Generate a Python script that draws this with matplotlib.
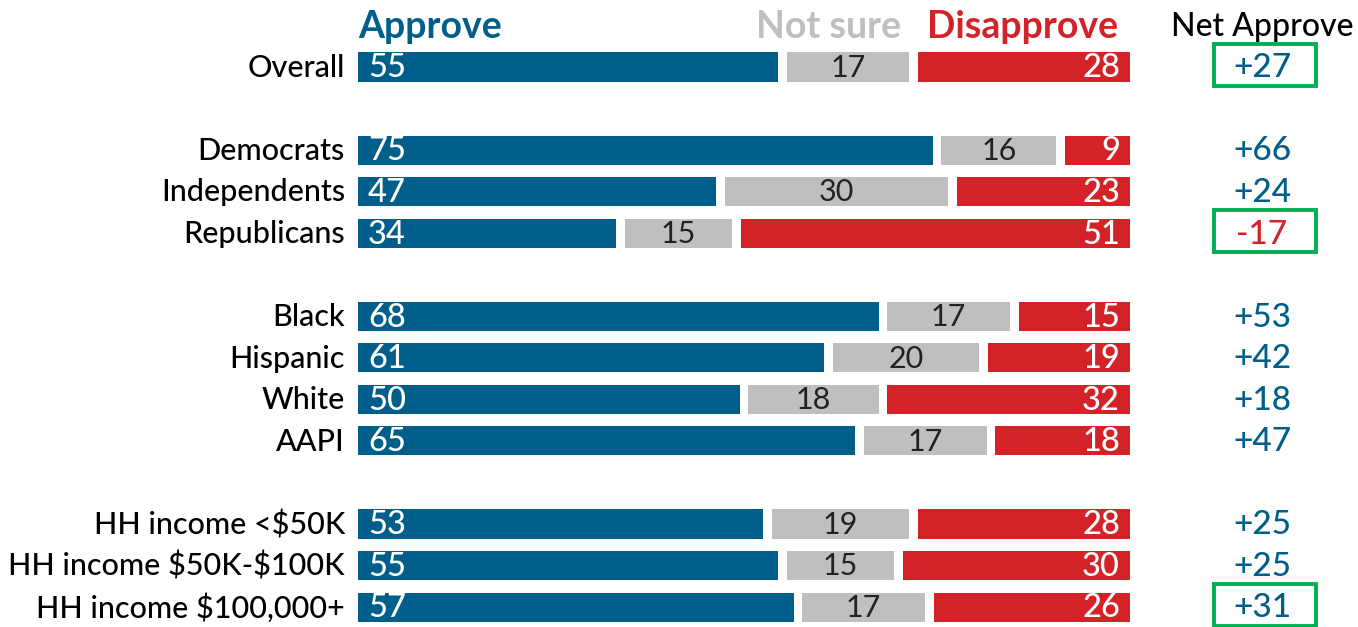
import numpy as np
import matplotlib.pyplot as plt
from matplotlib.patches import Rectangle

plt.rcParams['font.family'] = ['Lato', 'DejaVu Sans']
plt.rcParams['text.parse_math'] = False

groups = ['Overall', 'Democrats', 'Independents', 'Republicans',
          'Black', 'Hispanic', 'White', 'AAPI',
          'HH income <$50K', 'HH income $50K-$100K', 'HH income $100,000+']
slots = [0, 2, 3, 4, 6, 7, 8, 9, 11, 12, 13]
approve = [55, 75, 47, 34, 68, 61, 50, 65, 53, 55, 57]
not_sure = [17, 16, 30, 15, 17, 20, 18, 17, 19, 15, 17]
disapprove = [28, 9, 23, 51, 15, 19, 32, 18, 28, 30, 26]
highlight = ['Overall', 'Republicans', 'HH income $100,000+']

BLUE = '#005E8A'
GREY = '#BFBFBF'
RED = '#D42229'
GREEN = '#00B050'
gap = 1.15
h = 0.7

fig = plt.figure(figsize=(13.58, 6.27), dpi=100)
ax = fig.add_axes([358 / 1358, 0, 772 / 1358, 1])
ax.set_xlim(0, 100)
ax.set_ylim(13.48, -1.613)
ax.axis('off')

for g, y, a, n, d in zip(groups, slots, approve, not_sure, disapprove):
    ax.barh(y, a - gap / 2, left=0, height=h, color=BLUE)
    ax.barh(y, n - gap, left=a + gap / 2, height=h, color=GREY)
    ax.barh(y, d - gap / 2, left=a + n + gap / 2, height=h, color=RED)
    ty = y - 0.04
    ax.text(-1.7, ty, g, ha='right', va='center_baseline', fontsize=22,
            fontweight='medium', clip_on=False)
    ax.text(1.3, ty, str(a), ha='left', va='center_baseline', fontsize=23.5,
            fontweight='medium', color='white')
    ax.text(a + n / 2, ty, str(n), ha='center', va='center_baseline', fontsize=22,
            color='#222222')
    ax.text(98.7, ty, str(d), ha='right', va='center_baseline', fontsize=23.5,
            fontweight='medium', color='white')
    net = a - d
    ax.text(117.1, ty, f'{net:+d}', ha='center', va='center_baseline', fontsize=24,
            fontweight='medium', color=BLUE if net >= 0 else RED, clip_on=False)
    if g in highlight:
        ax.add_patch(Rectangle((110.9, y - 0.56), 13.2, 1.02, fill=False,
                               edgecolor=GREEN, linewidth=2.8, clip_on=False))

hy = -1.03
ax.text(0, hy, 'Approve', ha='left', va='center_baseline', fontsize=27, fontweight='bold', color=BLUE)
ax.text(70.3, hy, 'Not sure', ha='right', va='center_baseline', fontsize=27, fontweight='bold', color=GREY)
ax.text(98.4, hy, 'Disapprove', ha='right', va='center_baseline', fontsize=27, fontweight='bold', color=RED)
ax.text(117.1, hy, 'Net Approve', ha='center', va='center_baseline', fontsize=23,
        fontweight='medium', color='black', clip_on=False)

fig.savefig('out.png', dpi=100)
